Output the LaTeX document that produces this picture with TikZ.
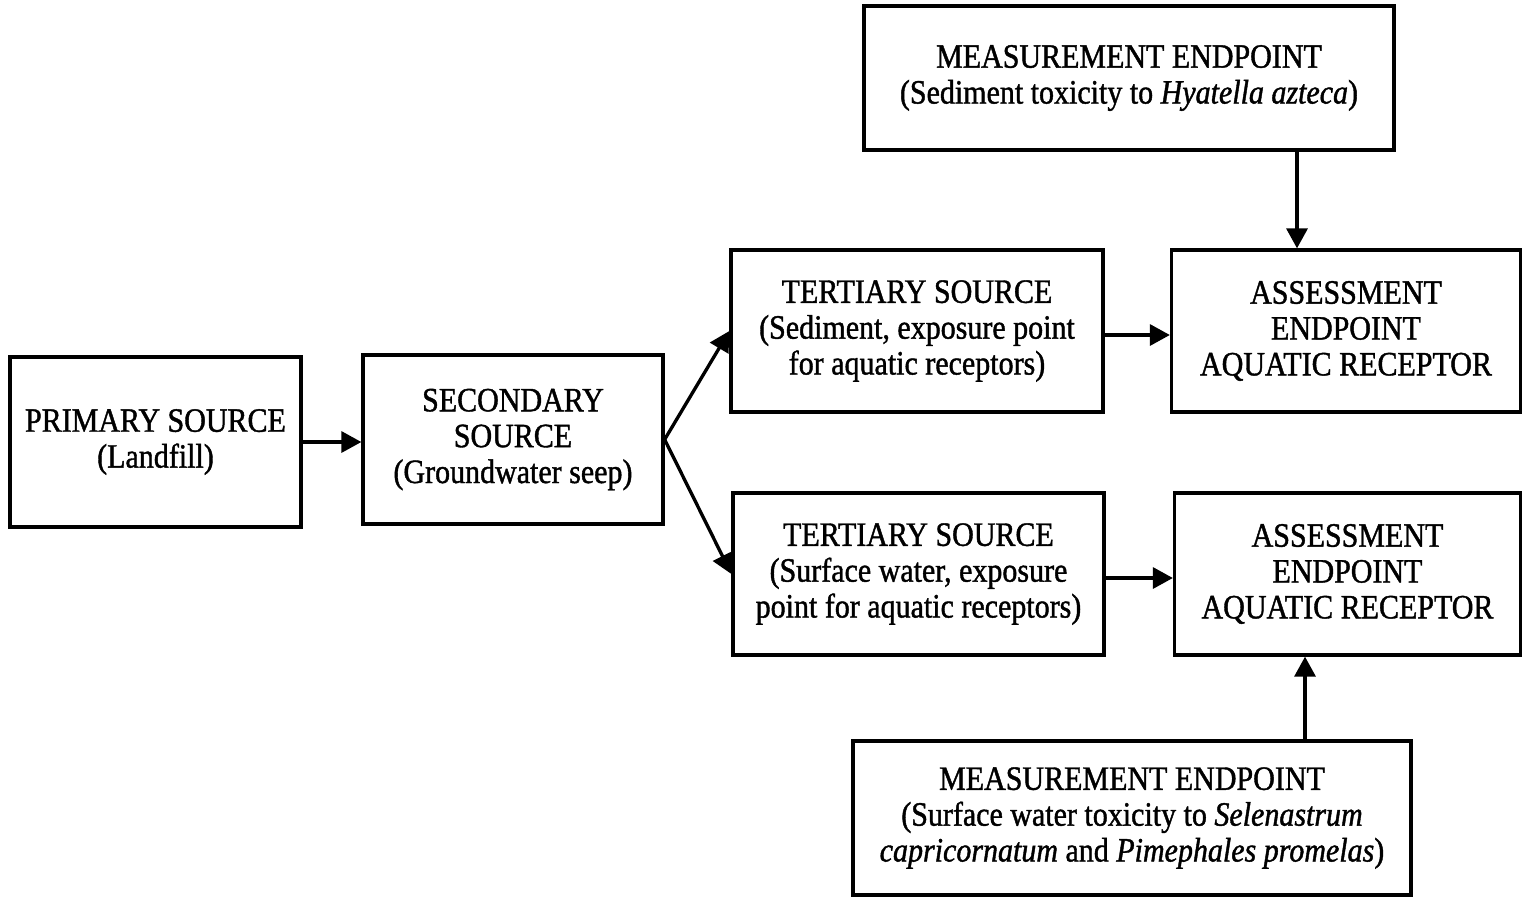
\documentclass[tikz,border=0pt]{standalone}
\usepackage{fontspec}
\setmainfont{Liberation Serif}[FakeStretch=0.88, FakeBold=1.2]
\usetikzlibrary{arrows.meta,calc}
\tikzset{>={Triangle[length=4mm, width=4.2mm]},
    box/.style={draw, line width=1.9pt, align=center, inner sep=0pt,
        font=\fontsize{19.4}{20.4}\selectfont},
    flow/.style={->, line width=1.9pt}}

\begin{document}
\begin{tikzpicture}[x=0.02cm, y=-0.02cm]
    \useasboundingbox (0,0) rectangle (1522,897);
    \node[box, minimum width=5.82cm, minimum height=3.4cm] (prim) at (155.5, 442) {PRIMARY SOURCE\\(Landfill)};
    \node[box, minimum width=6cm, minimum height=3.38cm] (sec) at (513, 439.5) {SECONDARY\\SOURCE\\(Groundwater seep)};
    \node[box, minimum width=7.44cm, minimum height=3.24cm] (ter1) at (917, 331) {TERTIARY SOURCE\\(Sediment, exposure point\\for aquatic receptors)};
    \node[box, minimum width=7.42cm, minimum height=3.24cm] (ter2) at (918.5, 574) {TERTIARY SOURCE\\(Surface water, exposure\\point for aquatic receptors)};
    \node[box, minimum width=6.98cm, minimum height=3.24cm] (asm1) at (1346, 331) {ASSESSMENT\\ENDPOINT\\AQUATIC RECEPTOR};
    \node[box, minimum width=6.92cm, minimum height=3.24cm] (asm2) at (1347.5, 574) {ASSESSMENT\\ENDPOINT\\AQUATIC RECEPTOR};
    \node[box, minimum width=10.6cm, minimum height=2.88cm] (meas1) at (1129, 78) {MEASUREMENT ENDPOINT\\(Sediment toxicity to \textit{Hyatella azteca})};
    \node[box, minimum width=11.16cm, minimum height=3.08cm] (meas2) at (1132, 818) {MEASUREMENT ENDPOINT\\(Surface water toxicity to \textit{Selenastrum}\\\textit{capricornatum} and \textit{Pimephales promelas})};
    \draw[flow] (prim.east) -- (prim.east -| sec.west);
    \draw[flow] (sec.east) -- (ter1.west);
    \draw[flow] (sec.east) -- (ter2.west);
    \draw[flow] ([yshift=-0.08cm]ter1.east) -- ([yshift=-0.08cm]ter1.east -| asm1.west);
    \draw[flow] ([yshift=-0.08cm]ter2.east) -- ([yshift=-0.08cm]ter2.east -| asm2.west);
    \draw[flow] ([xshift=-0.98cm]asm1.north |- meas1.south) -- ([xshift=-0.98cm]asm1.north);
    \draw[flow] ([xshift=-0.85cm]asm2.south |- meas2.north) -- ([xshift=-0.85cm]asm2.south);
\end{tikzpicture}
\end{document}
